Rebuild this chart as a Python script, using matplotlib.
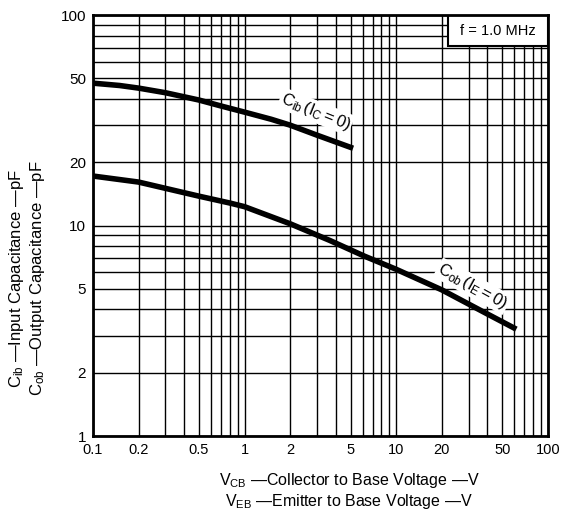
import matplotlib
matplotlib.use("Agg")
import matplotlib.pyplot as plt
from matplotlib.patches import Rectangle
from matplotlib.ticker import FixedLocator, NullFormatter, LogLocator

plt.rcParams['font.family'] = ['Liberation Sans', 'DejaVu Sans']
plt.rcParams['mathtext.fontset'] = 'custom'
plt.rcParams['mathtext.rm'] = 'Liberation Sans'
plt.rcParams['mathtext.it'] = 'Liberation Sans'

# capacitance curves
cib_v = [0.1, 0.15, 0.2, 0.3, 0.5, 0.7, 1, 1.5, 2, 3, 5.2]
cib_c = [47.5, 46.3, 45, 42.8, 39.5, 37, 34.6, 32, 30, 26.9, 23.3]
cob_v = [0.1, 0.2, 0.5, 0.8, 1, 2, 3.65, 6.2, 10, 20, 40, 62]
cob_c = [17.2, 16.1, 13.8, 12.8, 12.3, 10.2, 8.5, 7.15, 6.2, 4.95, 3.8, 3.22]

xticks = [0.1, 0.2, 0.5, 1, 2, 5, 10, 20, 50, 100]
xlabels = ['0.1', '0.2', '0.5', '1', '2', '5', '10', '20', '50', '100']
yticks = [1, 2, 5, 10, 20, 50, 100]
ylabels = ['1', '2', '5', '10', '20', '50', '100']

fig = plt.figure(figsize=(5.63, 5.21), dpi=100)
ax = fig.add_axes([0.165, 0.163, 0.808, 0.808])
ax.set_xscale('log')
ax.set_yscale('log')
ax.set_xlim(0.1, 100)
ax.set_ylim(1, 100)

ax.xaxis.set_major_locator(FixedLocator(xticks))
ax.set_xticklabels(xlabels)
ax.yaxis.set_major_locator(FixedLocator(yticks))
ax.set_yticklabels(ylabels)
ax.xaxis.set_minor_locator(LogLocator(base=10, subs=range(1, 10)))
ax.yaxis.set_minor_locator(LogLocator(base=10, subs=range(1, 10)))
ax.xaxis.set_minor_formatter(NullFormatter())
ax.yaxis.set_minor_formatter(NullFormatter())
ax.tick_params(which='both', length=0, pad=5)
ax.tick_params(axis='x', labelsize=10.5)
ax.tick_params(axis='y', labelsize=11)
ax.grid(True, which='both', color='black', linewidth=1.0)
for s in ax.spines.values():
    s.set_linewidth(2)
    s.set_zorder(6)

ax.plot(cib_v, cib_c, color='black', linewidth=4, solid_capstyle='butt', zorder=3)
ax.plot(cob_v, cob_c, color='black', linewidth=4, solid_capstyle='butt', zorder=3)

ax.text(2.95, 34.8, r'$C_{ib}\,(I_C=0)$', fontsize=12, rotation=-22,
        ha='center', va='center', zorder=4,
        bbox=dict(facecolor='white', edgecolor='none', pad=1))
ax.text(32, 5.15, r'$C_{ob}\,(I_E=0)$', fontsize=12, rotation=-29,
        ha='center', va='center', zorder=4,
        bbox=dict(facecolor='white', edgecolor='none', pad=1))

# frequency box in the top right corner
ax.add_patch(Rectangle((0.78, 0.926), 0.22, 0.074, transform=ax.transAxes,
                       facecolor='white', edgecolor='black', linewidth=1.5,
                       zorder=5))
ax.text(0.89, 0.963, 'f = 1.0 MHz', transform=ax.transAxes, fontsize=10.5,
        ha='center', va='center', zorder=6)

fig.text(0.029, 0.466, r'$C_{ib}$ —Input Capacitance —pF', rotation=90,
         ha='center', va='center', fontsize=12)
fig.text(0.067, 0.466, r'$C_{ob}$ —Output Capacitance —pF', rotation=90,
         ha='center', va='center', fontsize=12)
fig.text(0.62, 0.077, r'$V_{CB}$ —Collector to Base Voltage —V',
         ha='center', va='center', fontsize=11.5)
fig.text(0.62, 0.037, r'$V_{EB}$ —Emitter to Base Voltage —V',
         ha='center', va='center', fontsize=11.5)

fig.savefig('out.png', dpi=100)
